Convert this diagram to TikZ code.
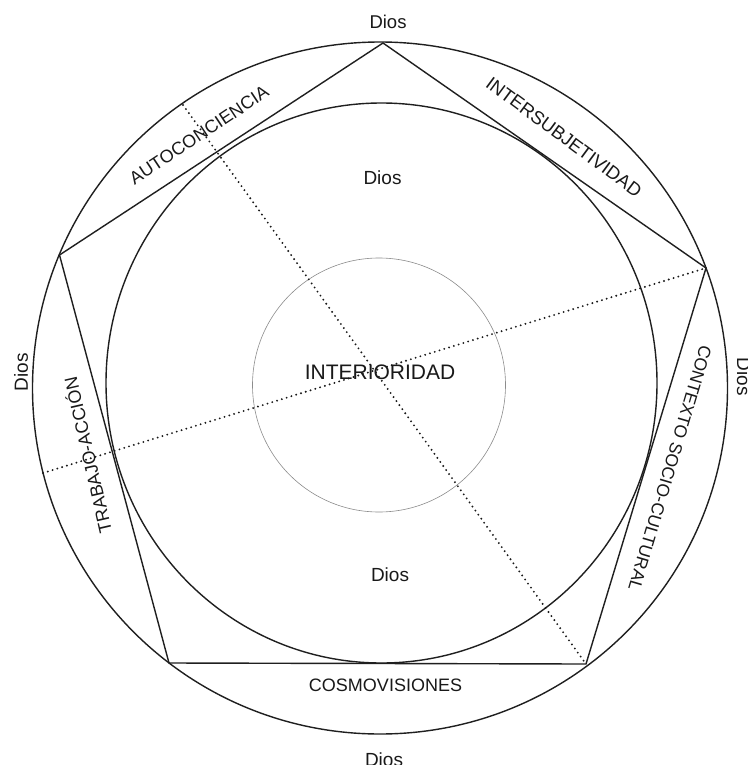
\documentclass[tikz,border=0pt]{standalone}
\usepackage{fontspec}
\setmainfont{Liberation Sans}
\newcommand\fsz[1]{\fontsize{#1}{#1}\selectfont}
\begin{document}
\begin{tikzpicture}[x=1pt,y=-1pt,
  ring/.style={draw=black!88, line width=1.4pt},
  core/.style={draw=black!45, line width=0.6pt},
  pent/.style={draw=black!88, line width=1.4pt, line join=miter},
  dots/.style={draw=black!90, line width=2.1pt, line cap=round, dash pattern=on 0pt off 5pt},
  lbl/.style={inner sep=0pt, text=black!90, anchor=center},
]
\useasboundingbox (0,0) rectangle (747,765);
\fill[white] (0,0) rectangle (747,765);
% circles
\draw[ring] (380,388) ellipse [x radius=347.5pt, y radius=346pt];
\draw[ring] (381.5,383) ellipse [x radius=275.5pt, y radius=280pt];
\draw[core] (379,385) ellipse [x radius=126.5pt, y radius=127pt];
% pentagon vertices
\coordinate (pT) at (383,43);
\coordinate (pR) at (706,268);
\coordinate (pBR) at (586,664);
\coordinate (pBL) at (169,663);
\coordinate (pL) at (59.5,255);
\draw[pent] (pT) -- (pR) -- (pBR) -- (pBL) -- (pL) -- cycle;
% dotted axes
\coordinate (dA) at (183,105);
\coordinate (dB) at (43,473);
\draw[dots] (dA) -- (pBR);
\draw[dots] (dB) -- (pR);
% labels
\node[lbl, font=\fsz{18.5}] (diosTop) at (388,21.5) {Dios};
\node[lbl, font=\fsz{19}] (diosIn1) at (382.5,177.5) {Dios};
\node[lbl, font=\fsz{21}] (inter) at (380,372.5) {INTERIORIDAD};
\node[lbl, font=\fsz{19}] (diosIn2) at (390,575) {Dios};
\node[lbl, font=\fsz{18}] (cosmo) at (385.5,685.5) {COSMOVISIONES};
\node[lbl, font=\fsz{19}] (diosBot) at (384,759.5) {Dios};
\node[lbl, font=\fsz{19}, rotate=90] (diosL) at (21,372) {Dios};
\node[lbl, font=\fsz{19}, rotate=-90] (diosR) at (744,377) {Dios};
\node[lbl, font=\fsz{18}, rotate=33.5] (auto) at (199,135) {AUTOCONCIENCIA};
\node[lbl, font=\fsz{18.5}, rotate=-36.5] (intersub) at (564,137) {INTERSUBJETIVIDAD};
\node[lbl, font=\fsz{18}, rotate=103, text height=12.9pt, text depth=0pt] (trab) at (88,455) {TRABAJO-ACCIÓN};
\node[lbl, font=\fsz{17.5}, rotate=-106.5] (ctx) at (670,468) {CONTEXTO SOCIO-CULTURAL};
\end{tikzpicture}
\end{document}
